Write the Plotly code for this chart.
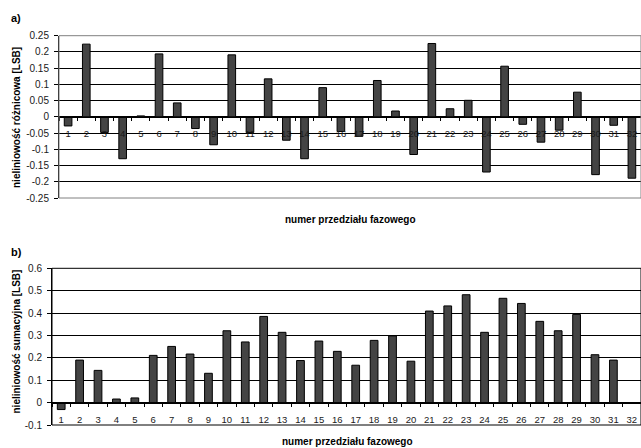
import plotly.graph_objects as go

categories = [str(i) for i in range(1, 33)]

dnl_values = [-0.028, 0.224, -0.048, -0.129, 0.003, 0.194, 0.043, -0.036,
              -0.086, 0.191, -0.048, 0.117, -0.072, -0.129, 0.090, -0.045,
              -0.060, 0.112, 0.018, -0.116, 0.226, 0.025, 0.051, -0.170,
              0.156, -0.023, -0.078, -0.041, 0.076, -0.178, -0.026, -0.189]

inl_values = [-0.031, 0.190, 0.144, 0.016, 0.021, 0.211, 0.251, 0.217,
              0.131, 0.321, 0.271, 0.385, 0.314, 0.188, 0.275, 0.229,
              0.167, 0.278, 0.298, 0.185, 0.409, 0.432, 0.482, 0.314,
              0.466, 0.443, 0.363, 0.321, 0.394, 0.214, 0.190, 0.0]

y1_ticks = [-0.25, -0.2, -0.15, -0.1, -0.05, 0, 0.05, 0.1, 0.15, 0.2, 0.25]
y1_labels = ["-0.25", "-0.2", "-0.15", "-0.1", "-0.05", "0", "0.05", "0.1", "0.15", "0.2", "0.25"]
y2_ticks = [-0.1, 0, 0.1, 0.2, 0.3, 0.4, 0.5, 0.6]
y2_labels = ["-0.1", "0", "0.1", "0.2", "0.3", "0.4", "0.5", "0.6"]

W, H = 641, 448
FONT = "Liberation Sans, Arial, sans-serif"
TXT = "#1a1a1a"

fig = go.Figure()
bar_style = dict(marker=dict(color="#444444", line=dict(color="#000000", width=1)),
                 showlegend=False, hoverinfo="x+y")
fig.add_trace(go.Bar(x=categories, y=dnl_values, xaxis="x", yaxis="y", **bar_style))
fig.add_trace(go.Bar(x=categories, y=inl_values, xaxis="x2", yaxis="y2", **bar_style))

top_dom = [1 - 198 / H, 1 - 35.7 / H]
bot_dom = [1 - 425 / H, 1 - 268.3 / H]

def xaxis_cfg(dom_x, pos):
    return dict(domain=dom_x, anchor="free", position=pos, type="category",
                range=[-0.5, len(categories) - 0.5], autorange=False,
                showline=True, linecolor="#000000", linewidth=1,
                ticks="outside", ticklen=3, tickcolor="#000000", tickson="boundaries",
                ticklabelstandoff=8, tickangle=0, layer="above traces",
                showgrid=False, zeroline=False, automargin=False,
                tickfont=dict(family=FONT, size=9.5, color=TXT), fixedrange=True)

def yaxis_cfg(dom_y, rng, tv, tt, xa):
    return dict(domain=dom_y, range=rng, anchor=xa, tickvals=tv, ticktext=tt,
                showline=True, linecolor="#000000", linewidth=1,
                ticks="outside", ticklen=4, tickcolor="#000000",
                ticklabelstandoff=3,
                showgrid=True, gridcolor="#000000", gridwidth=1,
                zeroline=True, zerolinecolor="#000000", zerolinewidth=1,
                automargin=False,
                tickfont=dict(family=FONT, size=10, color=TXT), fixedrange=True)

top_zero = top_dom[0] + (top_dom[1] - top_dom[0]) * 0.5
bot_zero = bot_dom[0] + (bot_dom[1] - bot_dom[0]) * (1 / 7)

fig.update_layout(
    width=W, height=H,
    margin=dict(l=0, r=0, t=0, b=0),
    paper_bgcolor="white", plot_bgcolor="white",
    bargap=0.58,
    xaxis=xaxis_cfg([59 / W, 1.0], top_zero),
    yaxis=yaxis_cfg(top_dom, [-0.25, 0.25], y1_ticks, y1_labels, "x"),
    xaxis2=xaxis_cfg([52 / W, 1.0], bot_zero),
    yaxis2=yaxis_cfg(bot_dom, [-0.1, 0.6], y2_ticks, y2_labels, "x2"),
    shapes=[
        dict(type="rect", xref="x domain", yref="y domain", x0=0, x1=1, y0=0, y1=1,
             line=dict(color="#808080", width=1), layer="above"),
        dict(type="rect", xref="x2 domain", yref="y2 domain", x0=0, x1=1, y0=0, y1=1,
             line=dict(color="#000000", width=1), layer="above"),
    ],
)

ann_font = dict(family=FONT, size=10, color="#000000", weight="bold")
annotations = [
    dict(text="a)", x=16 / W, y=1 - 18 / H, font=dict(family=FONT, size=11, color="#000", weight="bold")),
    dict(text="b)", x=16 / W, y=1 - 252 / H, font=dict(family=FONT, size=11, color="#000", weight="bold")),
    dict(text="numer przedziału fazowego", x=350 / W, y=1 - 219 / H, font=ann_font),
    dict(text="numer przedziału fazowego", x=347 / W, y=1 - 441 / H, font=ann_font),
    dict(text="nieliniowość różnicowa [LSB]", x=16.5 / W, y=1 - 117.5 / H,
         textangle=-90, font=ann_font),
    dict(text="nieliniowość sumacyjna [LSB]", x=16 / W, y=1 - 341.5 / H,
         textangle=-90, font=ann_font),
]
for a in annotations:
    a.update(xref="paper", yref="paper", showarrow=False, xanchor="center", yanchor="middle")
fig.update_layout(annotations=annotations)

fig.write_html("out.html",
               config={"displayModeBar": False},
               post_script="document.body.style.margin='0';document.body.style.overflow='hidden';")
